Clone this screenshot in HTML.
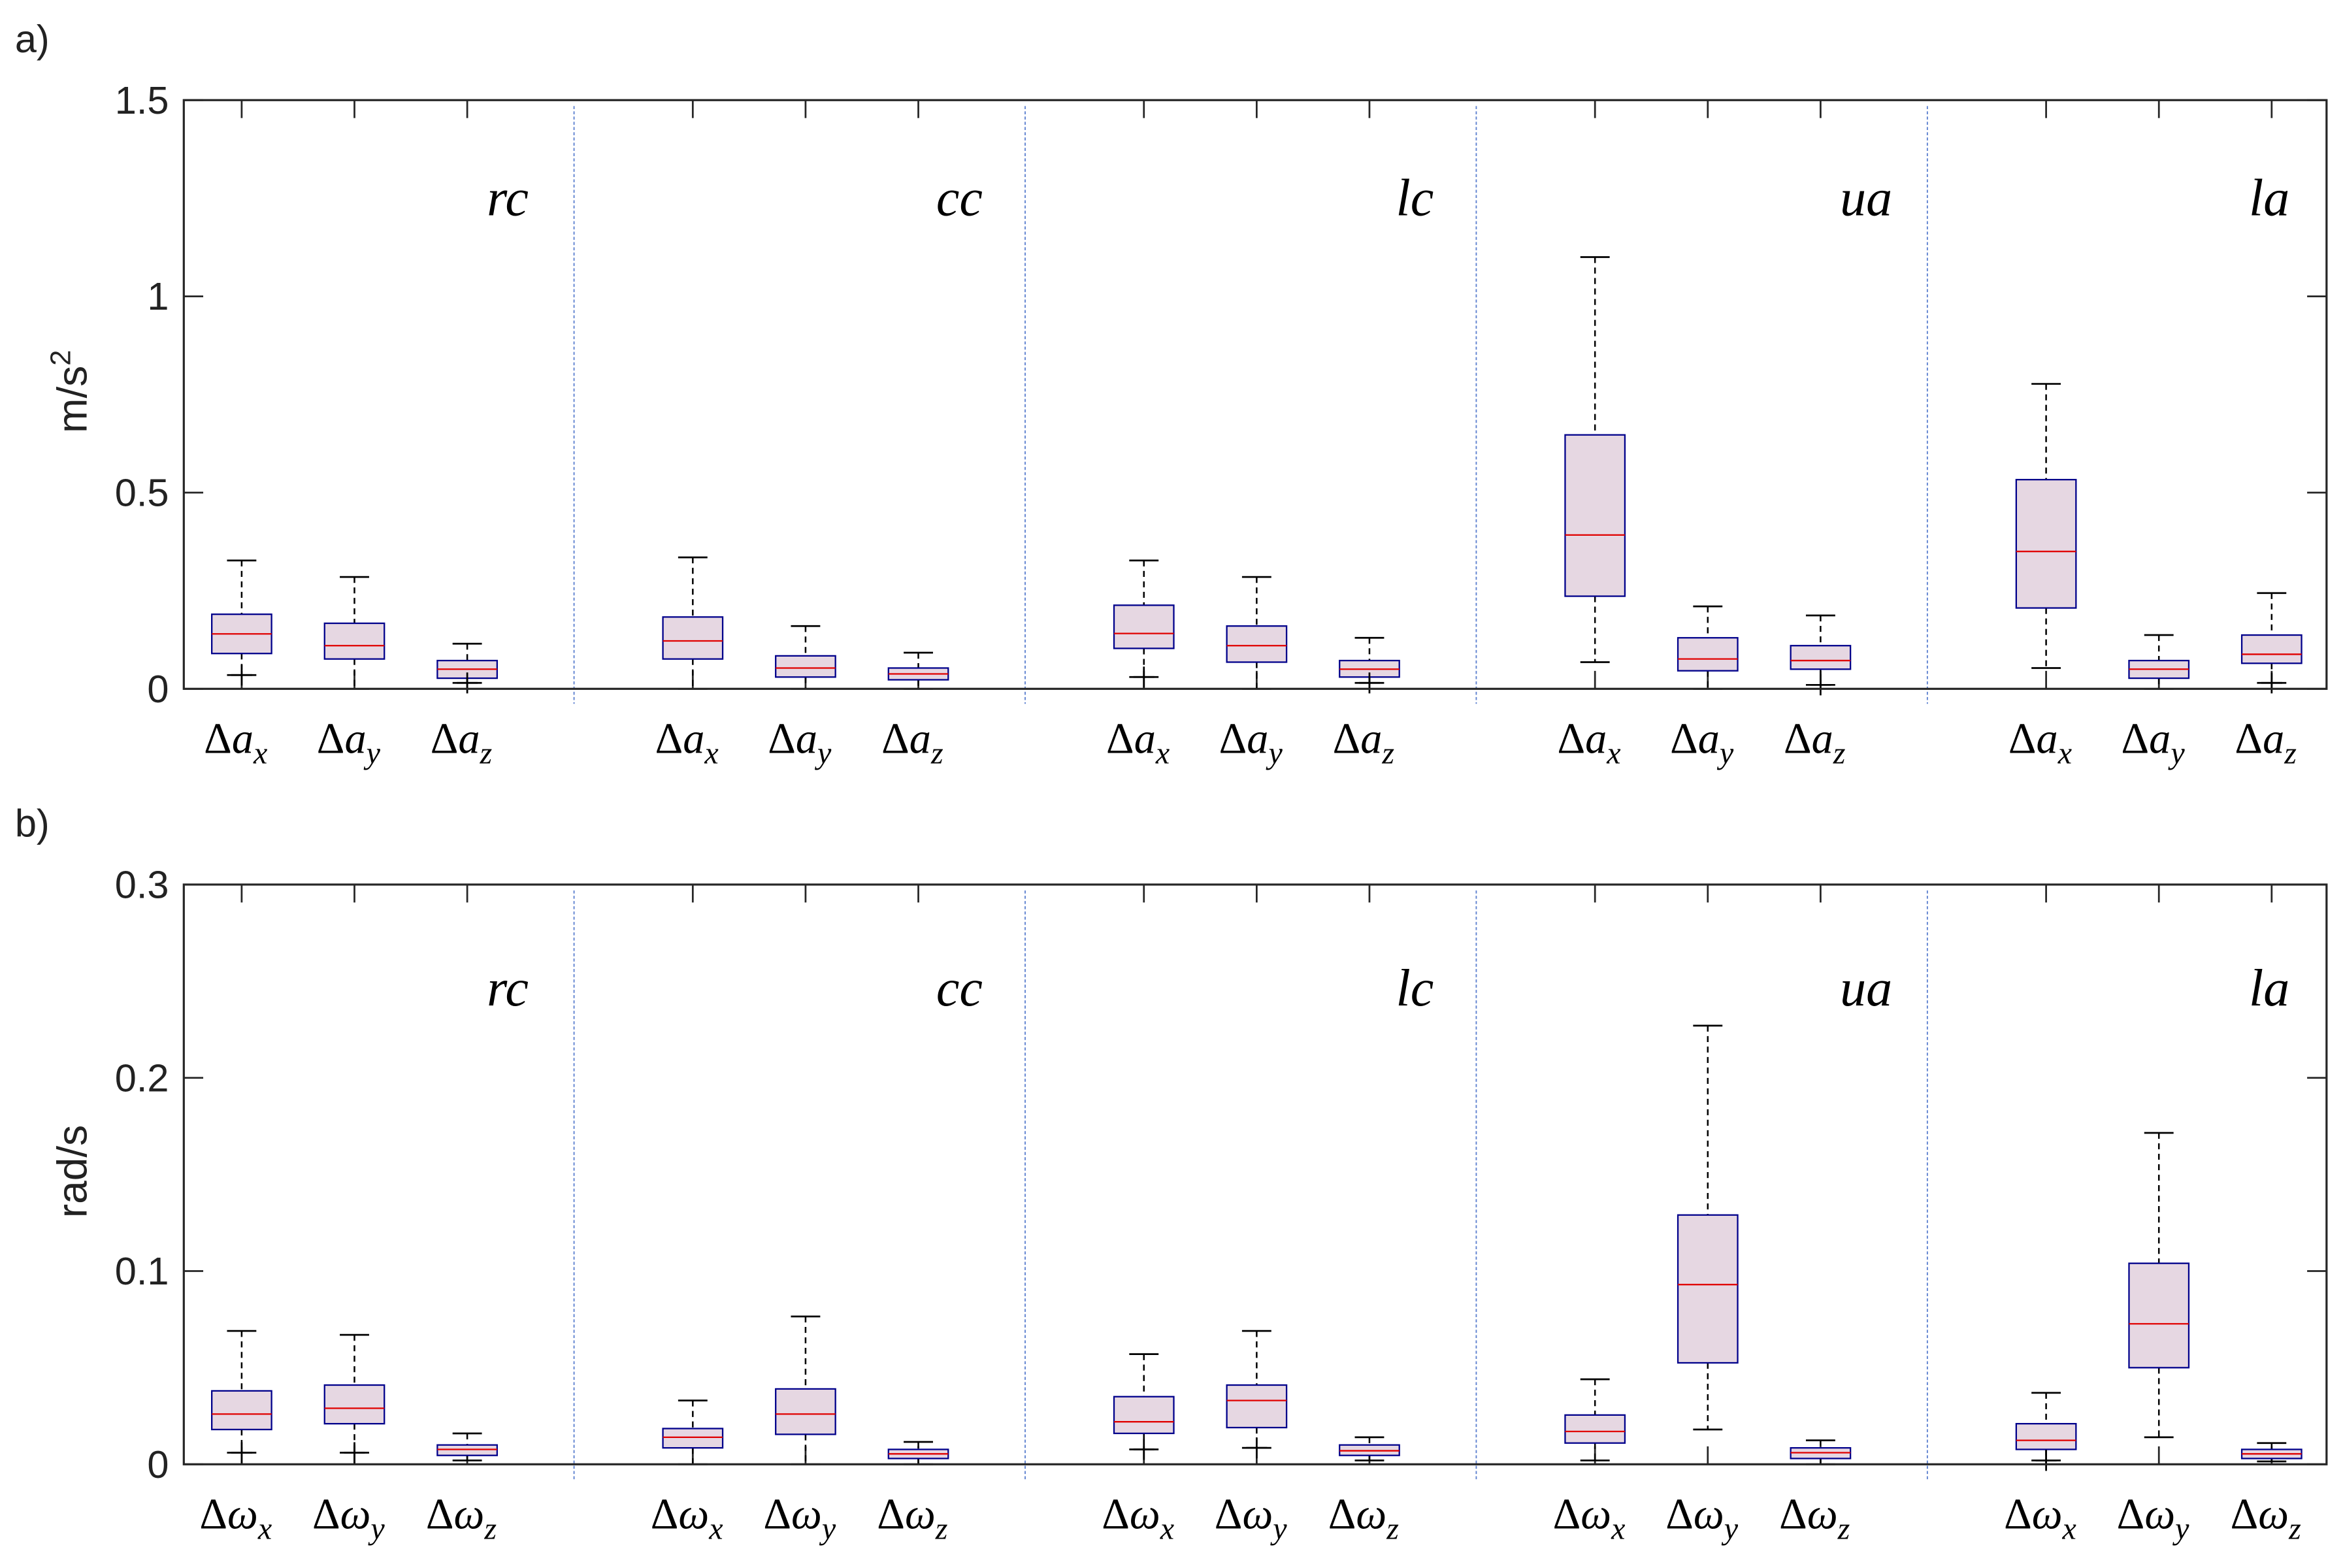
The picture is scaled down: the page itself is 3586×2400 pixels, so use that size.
<!DOCTYPE html>
<html><head><meta charset="utf-8">
<style>
html,body{margin:0;padding:0;background:#fff;}
svg{display:block;}
text{font-family:"Liberation Sans",sans-serif;fill:#222;}
.ser{font-family:"Liberation Serif",serif;font-style:italic;fill:#000;}
</style></head>
<body>
<svg id="chart" width="3586" height="2400" viewBox="0 0 1568 1049.4" xmlns="http://www.w3.org/2000/svg">
</svg>
<script>
// categories
const groups = ["rc","cc","lc","ua","la"];
const axesA = ["x","y","z"];
// panel a: acceleration (m/s^2)
const aWhiskHi = [0.327,0.285,0.115, 0.335,0.160,0.092, 0.327,0.285,0.130, 1.100,0.210,0.187, 0.777,0.137,0.244];
const aQ3      = [0.190,0.167,0.072, 0.183,0.084,0.053, 0.213,0.160,0.072, 0.647,0.130,0.110, 0.533,0.072,0.137];
const aMed     = [0.140,0.110,0.050, 0.122,0.053,0.038, 0.141,0.110,0.050, 0.392,0.076,0.072, 0.350,0.050,0.088];
const aQ1      = [0.090,0.076,0.027, 0.076,0.030,0.023, 0.103,0.068,0.030, 0.236,0.046,0.050, 0.206,0.027,0.065];
const aWhiskLo = [0.035,0.000,0.015, 0.000,0.000,0.000, 0.030,0.000,0.015, 0.068,0.000,0.010, 0.053,0.000,0.015];
const aPlus    = [1,0,1, 0,0,0, 1,0,1, 0,0,1, 0,0,1];
const aTicks = [0,0.5,1,1.5];
const aTickLabels = ["0","0.5","1","1.5"];
// panel b: angular rate (rad/s)
const bWhiskHi = [0.069,0.067,0.016, 0.033,0.0765,0.0116, 0.057,0.069,0.014, 0.044,0.227,0.0124, 0.037,0.1715,0.011];
const bQ3      = [0.038,0.041,0.010, 0.0185,0.039,0.0077, 0.035,0.041,0.010, 0.0255,0.129,0.0085, 0.021,0.104,0.0077];
const bMed     = [0.026,0.029,0.0077, 0.014,0.026,0.0054, 0.022,0.033,0.007, 0.017,0.093,0.006, 0.0124,0.0727,0.0054];
const bQ1      = [0.018,0.021,0.0046, 0.0085,0.0155,0.003, 0.016,0.019,0.0046, 0.011,0.0525,0.003, 0.0077,0.050,0.003];
const bWhiskLo = [0.006,0.006,0.002, 0.000,0.000,0.000, 0.0077,0.0085,0.002, 0.002,0.018,0.000, 0.002,0.014,0.0015];
const bPlus    = [1,1,0, 0,0,0, 1,1,0, 0,0,0, 1,0,0];
const bTicks = [0,0.1,0.2,0.3];
const bTickLabels = ["0","0.1","0.2","0.3"];

const NS="http://www.w3.org/2000/svg";
const svg=document.getElementById('chart');
function mk(tag,attrs,parent){const e=document.createElementNS(NS,tag);for(const k in attrs)e.setAttribute(k,attrs[k]);(parent||svg).appendChild(e);return e;}
const labelOffset=[42,44,44,49,13];

function panel(cfg){
  const {top,bottom,ymax,hi,q3,med,q1,lo,plus,ticks,tickLabels,sym,ylabel,tag,letter,glY}=cfg;
  const left=123,right=1557;
  const g=mk('g',{});
  
  
  const xs=p=>left+(p-0.5)*(right-left)/19;
  const ys=v=>bottom-(v/ymax)*(bottom-top);
  const lt=mk('text',{x:10,y:top-32,'font-size':26},g);lt.textContent=letter;
  
  
  for(let d=1;d<5;d++){
    const dl=mk('line',{x1:xs(d*4)-3,x2:xs(d*4)-3,y1:top+4,y2:bottom+10,stroke:'#5b7fcf','stroke-width':0.8,'stroke-dasharray':'2,1.5'},g);
    
    
  }
  ticks.forEach((t,i)=>{
    const y=ys(t);
    mk('line',{x1:left,x2:left+13,y1:y,y2:y,stroke:'#262626','stroke-width':1.2},g);
    mk('line',{x1:right,x2:right-13,y1:y,y2:y,stroke:'#262626','stroke-width':1.2},g);
    const tl=mk('text',{x:113,y:y+9,'font-size':26,'text-anchor':'end'},g);
    tl.textContent=tickLabels[i];
    
    
  });
  const yl=mk('text',{x:0,y:0,'font-size':28,'text-anchor':'middle',transform:`translate(58,${(top+bottom)/2-2}) rotate(-90)`},g);
  yl.innerHTML=ylabel;
  
  
  for(let i=0;i<15;i++){
    const gi=Math.floor(i/3), k=i%3;
    const p=gi*4+k+1, x=xs(p)+1;
    const hw=0.265*(right-left)/19, cw=0.13*(right-left)/19;
    mk('line',{x1:x,x2:x,y1:top,y2:top+12,stroke:'#262626','stroke-width':1.2},g);
    mk('line',{x1:x,x2:x,y1:bottom,y2:bottom-12,stroke:'#262626','stroke-width':1.2},g);
    const bg=mk('g',{},g);
    
    
    mk('line',{x1:x,x2:x,y1:ys(hi[i]),y2:ys(q3[i]),stroke:'#000','stroke-width':1.1,'stroke-dasharray':'4,3'},bg);
    mk('line',{x1:x,x2:x,y1:ys(q1[i]),y2:ys(lo[i]),stroke:'#000','stroke-width':1.1,'stroke-dasharray':'4,3'},bg);
    mk('line',{x1:x-cw,x2:x+cw,y1:ys(hi[i]),y2:ys(hi[i]),stroke:'#000','stroke-width':1.2},bg);
    mk('line',{x1:x-cw,x2:x+cw,y1:ys(lo[i]),y2:ys(lo[i]),stroke:'#000','stroke-width':1.2},bg);
    mk('rect',{x:x-hw,y:ys(q3[i]),width:2*hw,height:Math.max(ys(q1[i])-ys(q3[i]),1),fill:'#e6d7e2',stroke:'#00008b','stroke-width':1},bg);
    mk('line',{x1:x-hw,x2:x+hw,y1:ys(med[i]),y2:ys(med[i]),stroke:'#e00000','stroke-width':1},bg);
    if(plus[i]){
      const py=ys(lo[i]);
      mk('line',{x1:x-7,x2:x+7,y1:py,y2:py,stroke:'#000','stroke-width':1.2},bg);
      mk('line',{x1:x,x2:x,y1:py-7,y2:py+7,stroke:'#000','stroke-width':1.2},bg);
    }
    const xl=mk('text',{x:x-4,y:bottom+43,'font-size':29,'text-anchor':'middle',class:'ser'},g);
    xl.innerHTML=`<tspan font-style="normal">Δ</tspan>${sym}<tspan font-size="21" dy="7">${axesA[k]}</tspan>`;
    
    
  }
  groups.forEach((gname,gi)=>{
    const t=mk('text',{x:xs(gi*4+3)+labelOffset[gi],y:glY,'font-size':35,'text-anchor':'end',class:'ser'},g);
    t.textContent=gname;
    
    
  });
  mk('rect',{x:left,y:top,width:right-left,height:bottom-top,fill:'none',stroke:'#262626','stroke-width':1.4},g);
}
panel({top:67,bottom:461,ymax:1.5,hi:aWhiskHi,q3:aQ3,med:aMed,q1:aQ1,lo:aWhiskLo,plus:aPlus,ticks:aTicks,tickLabels:aTickLabels,sym:'a',ylabel:'m/s<tspan font-size="19" dy="-11">2</tspan>',tag:'accel',letter:'a)',glY:144});
panel({top:592,bottom:980,ymax:0.3,hi:bWhiskHi,q3:bQ3,med:bMed,q1:bQ1,lo:bWhiskLo,plus:bPlus,ticks:bTicks,tickLabels:bTickLabels,sym:'ω',ylabel:'rad/s',tag:'gyro',letter:'b)',glY:673});
</script>
</body></html>
